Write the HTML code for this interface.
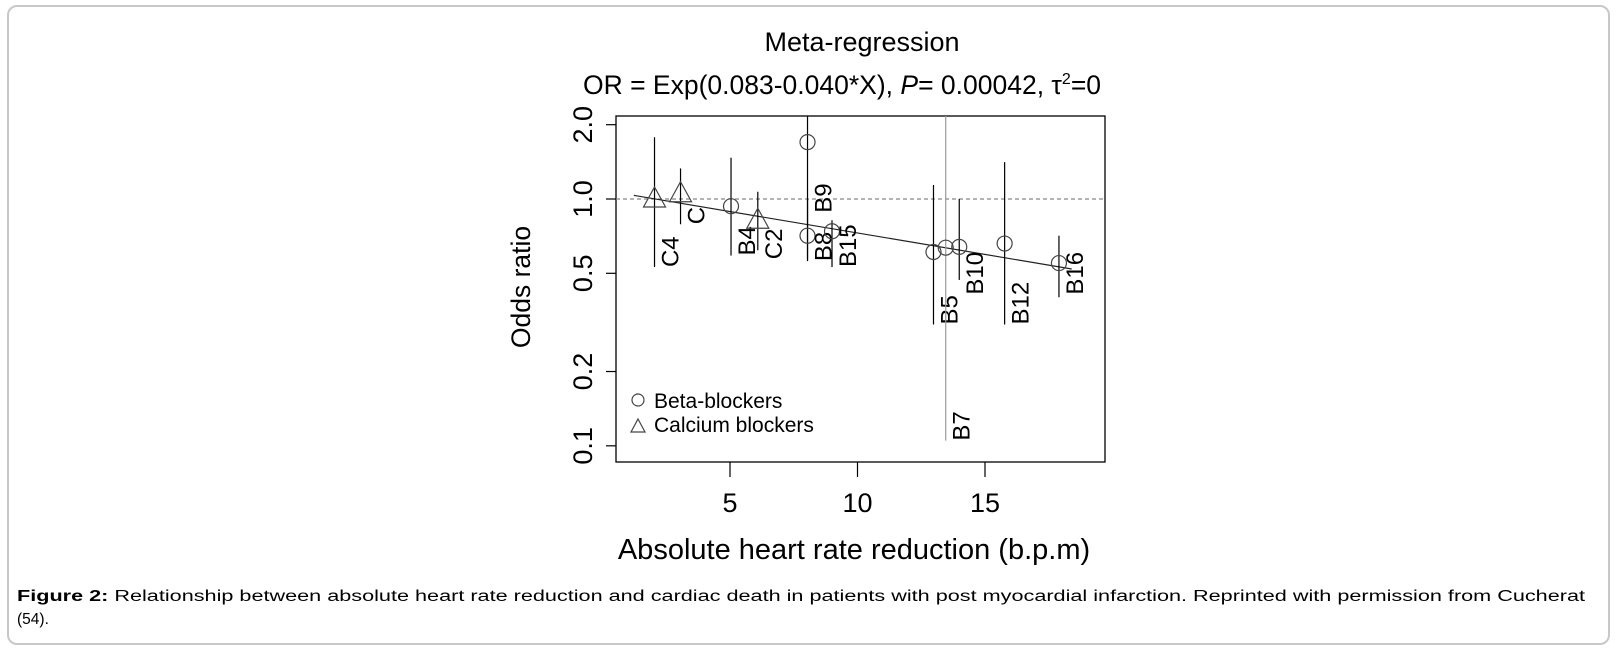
<!DOCTYPE html>
<html><head><meta charset="utf-8"><style>
html,body{margin:0;padding:0;background:#fff;}
svg{display:block;font-family:"Liberation Sans",Arial,sans-serif;}
</style></head><body>
<svg id="chart" width="1618" height="651" viewBox="0 0 1618 651">
<rect x="8" y="6" width="1601" height="638" rx="9" fill="#fff" stroke="#c8c8c8" stroke-width="2"/>
<text x="862" y="51" font-size="27" text-anchor="middle">Meta-regression</text>
<text x="842" y="94" font-size="26.5" text-anchor="middle">OR = Exp(0.083-0.040*X), <tspan font-style="italic">P</tspan>= 0.00042, τ<tspan font-size="16" dy="-10">2</tspan><tspan dy="10">=0</tspan></text>
<rect x="616" y="116" width="489" height="346" fill="none" stroke="#000" stroke-width="1.3"/>
<g id="yaxis"></g>
<g id="xaxis"></g>
<text transform="translate(530,287) rotate(-90)" font-size="26.5" text-anchor="middle">Odds ratio</text>
<text x="854" y="559" font-size="29" text-anchor="middle">Absolute heart rate reduction (b.p.m)</text>
<g id="marks"></g>
<g>
<circle cx="638" cy="400" r="6" fill="none" stroke="#444" stroke-width="1.2"/>
<text x="654" y="408" font-size="21">Beta-blockers</text>
<path d="M631,432 L645,432 L638,419 Z" fill="none" stroke="#444" stroke-width="1.2"/>
<text x="654" y="432" font-size="21">Calcium blockers</text>
</g>
<text x="17" y="601" font-size="15.5" textLength="1568" lengthAdjust="spacingAndGlyphs"><tspan font-weight="bold">Figure 2:</tspan> Relationship between absolute heart rate reduction and cardiac death in patients with post myocardial infarction. Reprinted with permission from Cucherat</text>
<text x="17" y="624" font-size="15.5">(54).</text>
</svg>
<script>
const studies = ["C4","C","B4","C2","B9","B8","B15","B5","B7","B10","B12","B16"];
const types   = ["ca","ca","beta","ca","beta","beta","beta","beta","beta","beta","beta","beta"];
const hrr     = [2.04,3.06,5.04,6.09,8.04,8.04,9.0,12.98,13.46,13.99,15.77,17.9];
const orVal   = [1.0,1.05,0.935,0.82,1.70,0.71,0.74,0.61,0.635,0.64,0.66,0.55];
const ciLow   = [0.53,0.79,0.59,0.62,0.56,0.57,0.53,0.31,0.105,0.47,0.31,0.40];
const ciHigh  = [1.78,1.33,1.47,1.07,3.0,1.0,0.82,1.14,5.0,1.0,1.41,0.71];
const labelOR = [0.53,0.79,0.59,0.57,0.88,0.56,0.53,0.31,0.105,0.41,0.31,0.41];
const xTicks  = [5,10,15];
const yTicks  = [0.1,0.2,0.5,1.0,2.0];
const yTickLabels = ["0.1","0.2","0.5","1.0","2.0"];
const coefA = 0.083, coefB = -0.040;
const lineRange = [1.23,18.4];

const NS="http://www.w3.org/2000/svg";
const X0=616,X1=1105,Y0=116,Y1=462;
const xs=v=>730+(v-5)*25.5;
const ys=v=>199-74.3*Math.log2(v);
const cy=y=>Math.max(Y0,Math.min(Y1,y));
function mk(tag,attrs,parent){const e=document.createElementNS(NS,tag);for(const k in attrs)e.setAttribute(k,attrs[k]);parent.appendChild(e);return e;}
const yax=document.getElementById('yaxis'),xax=document.getElementById('xaxis'),mg=document.getElementById('marks');
yTicks.forEach((t,i)=>{
  const y=ys(t);
  const l=mk('line',{x1:X0-10,x2:X0,y1:y,y2:y,stroke:'#000','stroke-width':1.2},yax);
  
  
  const tx=mk('text',{transform:`translate(${X0-24},${y}) rotate(-90)`,'font-size':27,'text-anchor':'middle'},yax);
  tx.textContent=yTickLabels[i];
  
  
});
xTicks.forEach(t=>{
  const x=xs(t);
  const l=mk('line',{x1:x,x2:x,y1:Y1,y2:Y1+15,stroke:'#000','stroke-width':1.2},xax);
  
  
  const tx=mk('text',{x:x,y:Y1+50,'font-size':27,'text-anchor':'middle'},xax);
  tx.textContent=t;
  
  
});
const ref=mk('line',{x1:X0,x2:X1,y1:ys(1),y2:ys(1),stroke:'#888','stroke-width':1.2,'stroke-dasharray':'4,3'},mg);


const f=x=>Math.exp(coefA+coefB*x);
const reg=mk('line',{x1:xs(lineRange[0]),y1:ys(f(lineRange[0])),x2:xs(lineRange[1]),y2:ys(f(lineRange[1])),stroke:'#222','stroke-width':1.2},mg);


studies.forEach((s,i)=>{
  const x=xs(hrr[i]);
  const ci=mk('line',{x1:x,x2:x,y1:cy(ys(ciHigh[i])),y2:cy(ys(ciLow[i])),stroke:s==='B7'?'#999':'#000','stroke-width':1.2},mg);
  
  
  const y=ys(orVal[i]);
  let m;
  if(types[i]==='ca'){m=mk('path',{d:`M${x-11},${y+8} L${x+11},${y+8} L${x},${y-12} Z`,fill:'none',stroke:'#444','stroke-width':1.2},mg);}
  else{m=mk('circle',{cx:x,cy:y,r:7.5,fill:'none',stroke:'#444','stroke-width':1.2},mg);}
  
  
  const ly=ys(labelOR[i]);
  const t=mk('text',{transform:`translate(${x+24},${ly}) rotate(-90)`,'font-size':24},mg);
  t.textContent=s;
  
  
});
</script>
</body></html>
